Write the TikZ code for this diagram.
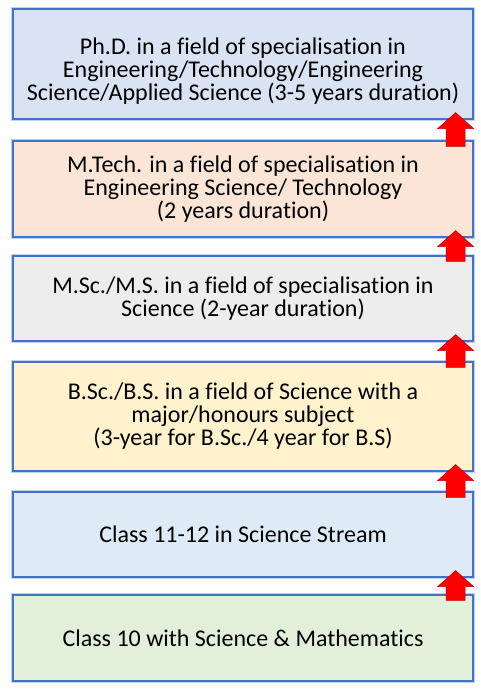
\documentclass[tikz,border=0pt]{standalone}
\usepackage{fontspec}
\setmainfont{Carlito}[Ligatures=NoCommon]
\usetikzlibrary{calc}

\definecolor{borde}{RGB}{68,114,196}
\definecolor{brillo}{RGB}{189,210,240}
\definecolor{fondoA}{RGB}{218,227,243}
\definecolor{fondoB}{RGB}{251,229,214}
\definecolor{fondoC}{RGB}{237,237,237}
\definecolor{fondoD}{RGB}{255,242,204}
\definecolor{fondoE}{RGB}{222,235,247}
\definecolor{fondoF}{RGB}{226,240,217}
\definecolor{rojo}{RGB}{255,0,0}
\definecolor{rojoborde}{RGB}{192,0,0}

\begin{document}
\begin{tikzpicture}[x=0.75pt,y=-0.75pt,
    texto/.style={align=center, inner sep=0pt,
      font=\fontsize{18}{17.25}\selectfont},
    caja/.style={draw=borde, line width=0.9pt, minimum width=345pt,
      texto, preaction={draw=brillo, line width=3.5pt}},
    flecha/.style={fill=rojo, draw=rojoborde, line width=0.4pt}]

      % Marco de la figura
      \useasboundingbox (0,0) rectangle (480,695);

      % Cajas de los niveles
      \node[caja, fill=fondoA, minimum height=82.5pt,
        label={[texto, yshift=-5.25pt]center:{Ph.D. in a field of specialisation in\\Engineering/Technology/Engineering\\Science/Applied Science (3-5 years duration)}}]
        (phd) at (243,64) {};
      \node[caja, fill=fondoB, minimum height=72pt] (mtech) at (243,189)
        {M.Tech. in a field of specialisation in\\Engineering Science/ Technology\\(2 years duration)};
      \node[caja, fill=fondoC, minimum height=63.75pt] (msc) at (243,298.5)
        {M.Sc./M.S. in a field of specialisation in\\Science (2-year duration)};
      \node[caja, fill=fondoD, minimum height=81.75pt] (bsc) at (243,416.5)
        {B.Sc./B.S. in a field of Science with a\\major/honours subject\\(3-year for B.Sc./4 year for B.S)};
      \node[caja, fill=fondoE, minimum height=63.75pt] (clase12) at (243,534.5)
        {Class 11-12 in Science Stream};
      \node[caja, fill=fondoF, minimum height=64.5pt] (clase10) at (243,638)
        {Class 10 with Science \& Mathematics};

      % Flechas entre niveles
      \foreach \arriba/\abajo in {phd/mtech, mtech/msc, msc/bsc, bsc/clase12, clase12/clase10} {
        \coordinate (punta) at ($(\arriba.south east)+(-18,-7)$); % punta de la flecha
        \coordinate (base) at ($(\abajo.north east)+(-18,6)$); % base del tallo
        \draw[flecha] (punta) -- ++(18,16) -- ++(-8.5,0) -- ($(base)+(9.5,0)$)
          -- ($(base)+(-9.5,0)$) -- ($(punta)+(-9.5,16)$) -- ++(-8.5,0) -- cycle;
      }

    \end{tikzpicture}
\end{document}
